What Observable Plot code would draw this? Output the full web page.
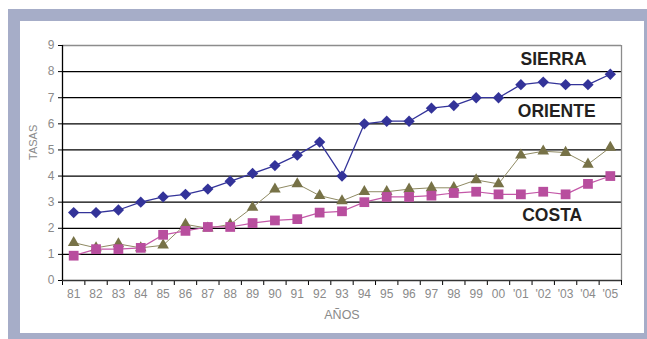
<!DOCTYPE html>
<html>
<head>
<meta charset="utf-8">
<script src="https://cdn.jsdelivr.net/npm/d3@7"></script>
<script src="https://cdn.jsdelivr.net/npm/@observablehq/plot@0.6"></script>
<style>
  html, body { margin: 0; padding: 0; background: #fff; }
  #wrap { position: relative; width: 647px; height: 339px; overflow: hidden; font-family: "Liberation Sans", Arial, sans-serif; }
  #frame { position: absolute; left: 8px; top: 9px; width: 639px; height: 330px; background: #a6adc8; }
  #inner { position: absolute; left: 20px; top: 21px; width: 624px; height: 312px; background: #fff; }
  #chart { position: absolute; left: 0; top: 0; }
  #chart svg { background: transparent !important; }
  #chart g[aria-label^="y-axis"] text { fill: #8a8a8a; }
</style>
</head>
<body>
<div id="wrap">
  <div id="frame"></div>
  <div id="inner"></div>
  <div id="chart"></div>
</div>
<script>
const years = ["81","82","83","84","85","86","87","88","89","90","91","92","93","94","95","96","97","98","99","00","'01","'02","'03","'04","'05"];
const sierra  = [2.6,2.6,2.7,3.0,3.2,3.3,3.5,3.8,4.1,4.4,4.8,5.3,4.0,6.0,6.1,6.1,6.6,6.7,7.0,7.0,7.5,7.6,7.5,7.5,7.9];
const oriente = [1.45,1.25,1.4,1.25,1.35,2.15,2.0,2.15,2.8,3.5,3.7,3.25,3.05,3.4,3.4,3.5,3.55,3.55,3.85,3.7,4.8,4.95,4.9,4.45,5.1];
const costa   = [0.95,1.2,1.2,1.25,1.75,1.9,2.05,2.05,2.2,2.3,2.35,2.6,2.65,3.0,3.2,3.2,3.25,3.35,3.4,3.3,3.3,3.4,3.3,3.7,4.0];
const yTicks = [0,1,2,3,4,5,6,7,8,9];
const seriesNames = ["SIERRA","ORIENTE","COSTA"];

const rows = s => s.map((v, i) => ({i, v}));
const sierraRows = rows(sierra), orienteRows = rows(oriente), costaRows = rows(costa);
const idx = years.map((_, i) => i);
const bounds = d3.range(years.length + 1).map(i => i - 0.5);

const plot = Plot.plot({
  width: 647,
  height: 339,
  marginLeft: 62,
  marginRight: 26,
  marginTop: 45,
  marginBottom: 59,
  style: {fontFamily: "'Liberation Sans', Arial, sans-serif", fontSize: "12px", background: "transparent", overflow: "visible", color: "#000"},
  x: {type: "linear", domain: [-0.5, years.length - 0.5], ticks: bounds, tickSize: 5, tickFormat: () => "", label: null, line: false},
  y: {domain: [0, 9], ticks: yTicks, tickSize: 4, tickPadding: 4, label: null},
  marks: [
    Plot.ruleY(yTicks.filter(t => t > 0 && t < 9), {stroke: "#000", strokeWidth: 1.3}),
    Plot.ruleY([9], {stroke: "#8c8c8c", strokeWidth: 1.3}),
    Plot.ruleY([0], {stroke: "#333", strokeWidth: 1.3}),
    Plot.ruleX([years.length - 0.5], {stroke: "#8c8c8c", strokeWidth: 1.3}),
    Plot.ruleX([-0.5], {stroke: "#000", strokeWidth: 1.3}),
    Plot.text(idx, {x: d => d, frameAnchor: "bottom", dy: 17, text: d => years[d], fill: "#8a8a8a", fontSize: 12}),
    Plot.text(["TASAS"], {frameAnchor: "left", dx: -29, dy: -3, rotate: -90, fill: "#8a8a8a", fontSize: 11}),
    Plot.text(["AÑOS"], {frameAnchor: "bottom", dy: 38, fill: "#8a8a8a", fontSize: 12.5}),
    Plot.line(orienteRows, {x: "i", y: "v", stroke: "#8f8a63", strokeWidth: 1}),
    Plot.line(costaRows, {x: "i", y: "v", stroke: "#c458a8", strokeWidth: 1.2}),
    Plot.line(sierraRows, {x: "i", y: "v", stroke: "#333399", strokeWidth: 1.3}),
    Plot.dot(orienteRows, {x: "i", y: "v", symbol: "triangle", r: 4.3, fill: "#777247", stroke: "none"}),
    Plot.dot(costaRows, {x: "i", y: "v", symbol: "square", r: 5.5, fill: "#b84e9e", stroke: "none"}),
    Plot.dot(sierraRows, {x: "i", y: "v", symbol: "diamond2", r: 5.1, fill: "#333399", stroke: "none"}),
    Plot.text([seriesNames[0]], {x: 21.46, y: 8.46, fill: "#231f20", fontSize: 17.5, fontWeight: "bold"}),
    Plot.text([seriesNames[1]], {x: 21.6, y: 6.47, fill: "#231f20", fontSize: 17.5, fontWeight: "bold"}),
    Plot.text([seriesNames[2]], {x: 21.4, y: 2.49, fill: "#231f20", fontSize: 17.5, fontWeight: "bold"})
  ]
});
document.getElementById("chart").appendChild(plot);
</script>
</body>
</html>
